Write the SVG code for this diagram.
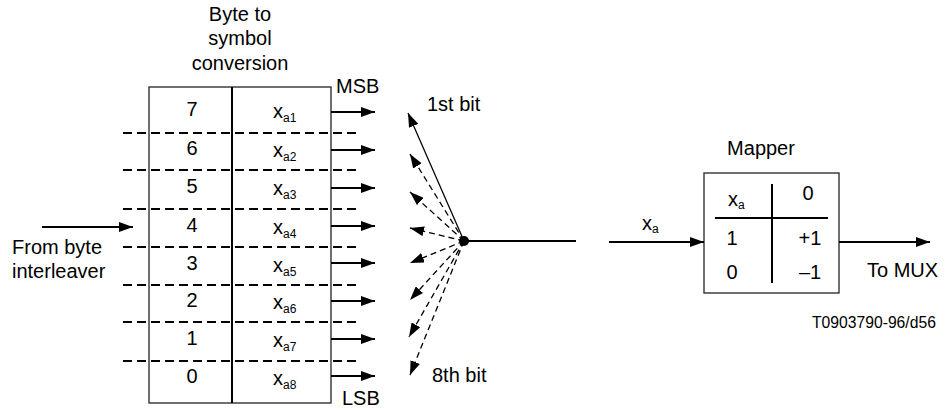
<svg xmlns="http://www.w3.org/2000/svg" width="950" height="411" viewBox="0 0 950 411">
<style>
text{font-family:"Liberation Sans",Arial,sans-serif;font-size:20px;fill:#000}
.sub{font-size:12px}
.small{font-size:15.7px}
.box{fill:none;stroke:#333;stroke-width:1.4}
.div{stroke:#000;stroke-width:2;fill:none}
.dash{stroke:#000;stroke-width:2;stroke-dasharray:9 5;fill:none}
.arr{stroke:#000;stroke-width:2;fill:none;marker-end:url(#ah)}
.fan{stroke:#000;stroke-width:1.3;fill:none;marker-end:url(#ah)}
.fand{stroke:#000;stroke-width:1.3;stroke-dasharray:6 4;fill:none;marker-end:url(#ah)}
</style>
<defs>
<marker id="ah" markerUnits="userSpaceOnUse" markerWidth="14" markerHeight="10" refX="14" refY="5" orient="auto">
<path d="M0,0 L14,5 L0,10 Z" fill="#000"/>
</marker>
</defs>
<rect width="950" height="411" fill="#fff"/>

<g id="title">
<text x="240" y="21" text-anchor="middle">Byte to</text>
<text x="240" y="45" text-anchor="middle">symbol</text>
<text x="240" y="70" text-anchor="middle">conversion</text>
</g>

<g id="converter">
<rect class="box" x="149" y="87" width="182" height="316"/>
<line class="div" x1="232" y1="87" x2="232" y2="403"/>
<line class="dash" x1="123" y1="133" x2="359" y2="133"/>
<line class="dash" x1="123" y1="170" x2="359" y2="170"/>
<line class="dash" x1="123" y1="209" x2="359" y2="209"/>
<line class="dash" x1="123" y1="247" x2="359" y2="247"/>
<line class="dash" x1="123" y1="285" x2="359" y2="285"/>
<line class="dash" x1="123" y1="322" x2="359" y2="322"/>
<line class="dash" x1="123" y1="361" x2="359" y2="361"/>
<text x="192" y="116" text-anchor="middle">7</text>
<text x="192" y="155" text-anchor="middle">6</text>
<text x="192" y="193" text-anchor="middle">5</text>
<text x="192" y="232" text-anchor="middle">4</text>
<text x="192" y="270" text-anchor="middle">3</text>
<text x="192" y="307" text-anchor="middle">2</text>
<text x="192" y="345" text-anchor="middle">1</text>
<text x="192" y="383" text-anchor="middle">0</text>
<text x="273" y="118">x<tspan class="sub" dy="4">a1</tspan></text>
<text x="273" y="157">x<tspan class="sub" dy="4">a2</tspan></text>
<text x="273" y="195">x<tspan class="sub" dy="4">a3</tspan></text>
<text x="273" y="234">x<tspan class="sub" dy="4">a4</tspan></text>
<text x="273" y="272">x<tspan class="sub" dy="4">a5</tspan></text>
<text x="273" y="309">x<tspan class="sub" dy="4">a6</tspan></text>
<text x="273" y="347">x<tspan class="sub" dy="4">a7</tspan></text>
<text x="273" y="385">x<tspan class="sub" dy="4">a8</tspan></text>
<text x="336" y="93">MSB</text>
<text x="342" y="405">LSB</text>
</g>

<g id="source">
<text x="12" y="254">From byte</text>
<text x="12" y="278">interleaver</text>
</g>

<g id="hub">
<circle cx="464" cy="241" r="5" fill="#000"/>
<text x="427" y="111">1st bit</text>
<text x="432" y="382">8th bit</text>
</g>

<g id="mapper">
<text x="761" y="155" text-anchor="middle">Mapper</text>
<rect class="box" x="704" y="173" width="135" height="120"/>
<line class="div" x1="772" y1="184" x2="772" y2="283"/>
<line class="div" x1="715" y1="218" x2="828" y2="218"/>
<text x="728" y="206">x<tspan class="sub" dy="3">a</tspan></text>
<text x="808" y="200" text-anchor="middle">0</text>
<text x="732" y="245" text-anchor="middle">1</text>
<text x="810" y="245" text-anchor="middle">+1</text>
<text x="732" y="279" text-anchor="middle">0</text>
<text x="810" y="279" text-anchor="middle">–1</text>
</g>

<g id="sink">
<text x="867" y="277">To MUX</text>
<text class="small" x="812" y="328">T0903790-96/d56</text>
</g>

<g id="connectors">
<line class="arr" x1="42" y1="227" x2="133" y2="227"/>
<line class="arr" x1="331" y1="112" x2="375" y2="112"/>
<line class="arr" x1="331" y1="150" x2="375" y2="150"/>
<line class="arr" x1="331" y1="188" x2="375" y2="188"/>
<line class="arr" x1="331" y1="226" x2="375" y2="226"/>
<line class="arr" x1="331" y1="263" x2="375" y2="263"/>
<line class="arr" x1="331" y1="301" x2="375" y2="301"/>
<line class="arr" x1="331" y1="339" x2="375" y2="339"/>
<line class="arr" x1="331" y1="376" x2="375" y2="376"/>
<line class="fan" x1="464" y1="241" x2="408" y2="113"/>
<line class="fand" x1="464" y1="241" x2="410" y2="154"/>
<line class="fand" x1="464" y1="241" x2="410" y2="192"/>
<line class="fand" x1="464" y1="241" x2="410" y2="228"/>
<line class="fand" x1="464" y1="241" x2="410" y2="263"/>
<line class="fand" x1="464" y1="241" x2="410" y2="300"/>
<line class="fand" x1="464" y1="241" x2="409" y2="337"/>
<line class="fand" x1="464" y1="241" x2="410" y2="375"/>
<line class="div" x1="464" y1="241" x2="576" y2="241"/>
<line class="arr" x1="609" y1="242" x2="704" y2="242"/>
<text x="642" y="230">x<tspan class="sub" dy="3">a</tspan></text>
<line class="arr" x1="839" y1="242" x2="930" y2="242"/>
</g>
</svg>
